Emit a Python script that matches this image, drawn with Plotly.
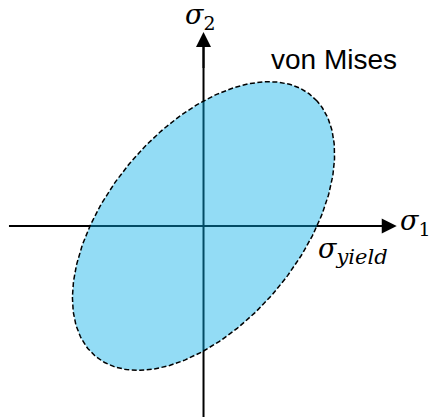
import numpy as np
import plotly.graph_objects as go

# ---- data ----
sigma_yield = 1.0                      # yield stress (normalised)
axis_names = ["σ", "σ"]
axis_subs = ["1", "2"]
yield_sub = "yield"
criterion_label = "von Mises"

# von Mises yield surface in plane stress: s1^2 - s1*s2 + s2^2 = sy^2
t = np.linspace(0, 2 * np.pi, 361)
a = np.sqrt(2.0) * sigma_yield          # semi-major axis (along s1 = s2)
b = np.sqrt(2.0 / 3.0) * sigma_yield    # semi-minor axis
s1 = (a * np.cos(t) - b * np.sin(t)) / np.sqrt(2.0)
s2 = (a * np.cos(t) + b * np.sin(t)) / np.sqrt(2.0)

X_MIN, X_MAX = -1.793, 2.004
Y_MIN, Y_MAX = -1.528, 1.808
AX_X0, AX_X1 = -1.714, 1.702
AX_Y0, AX_Y1 = -1.8, 1.552

fig = go.Figure()
# axis lines (under the ellipse)
fig.add_trace(go.Scatter(x=[AX_X0, AX_X1 - 0.1], y=[0, 0], mode="lines",
                         line=dict(color="black", width=2), hoverinfo="skip"))
fig.add_trace(go.Scatter(x=[0, 0], y=[AX_Y0, AX_Y1 - 0.1], mode="lines",
                         line=dict(color="black", width=2), hoverinfo="skip"))
# yield surface
fig.add_trace(go.Scatter(x=s1, y=s2, mode="lines", fill="toself",
                         fillcolor="rgba(5,175,232,0.43)",
                         line=dict(color="black", width=1.5, dash="5px,2.5px"),
                         hoverinfo="skip"))

anns = []
# arrow heads
anns.append(dict(x=AX_X1, y=0, ax=AX_X1 - 0.3, ay=0, xref="x", yref="y",
                 axref="x", ayref="y", showarrow=True, arrowhead=2,
                 arrowsize=1.5, arrowwidth=2, arrowcolor="black", text=""))
anns.append(dict(x=0, y=AX_Y1, ax=0, ay=AX_Y1 - 0.3, xref="x", yref="y",
                 axref="x", ayref="y", showarrow=True, arrowhead=2,
                 arrowsize=1.5, arrowwidth=2, arrowcolor="black", text=""))
serif = dict(family="DejaVu Serif", size=27, color="black")
anns.append(dict(x=1.863, y=0.03,
                 text="<i>" + axis_names[0] + "</i><sub>" + axis_subs[0] + "</sub>",
                 showarrow=False, font=serif, xanchor="center", yanchor="middle"))
anns.append(dict(x=-0.03, y=1.675,
                 text="<i>" + axis_names[1] + "</i><sub>" + axis_subs[1] + "</sub>",
                 showarrow=False, font=serif, xanchor="center", yanchor="middle"))
anns.append(dict(x=1.317, y=-0.2,
                 text="<i>σ<sub><span style='font-size:21px'>" + yield_sub + "</span></sub></i>",
                 showarrow=False, font=serif, xanchor="center", yanchor="middle"))
anns.append(dict(x=1.15, y=1.33, text=criterion_label, showarrow=False,
                 font=dict(family="Liberation Sans", size=28, color="black"),
                 xanchor="center", yanchor="middle"))

fig.update_layout(
    width=431, height=417,
    margin=dict(l=0, r=0, t=0, b=0),
    paper_bgcolor="white", plot_bgcolor="white",
    showlegend=False,
    xaxis=dict(range=[X_MIN, X_MAX], visible=False, fixedrange=True),
    yaxis=dict(range=[Y_MIN, Y_MAX], visible=False, fixedrange=True),
    annotations=anns,
)
fig.write_html(
    "out.html",
    config={"displayModeBar": False},
    post_script="document.body.style.margin='0';document.body.style.overflow='hidden';",
)
